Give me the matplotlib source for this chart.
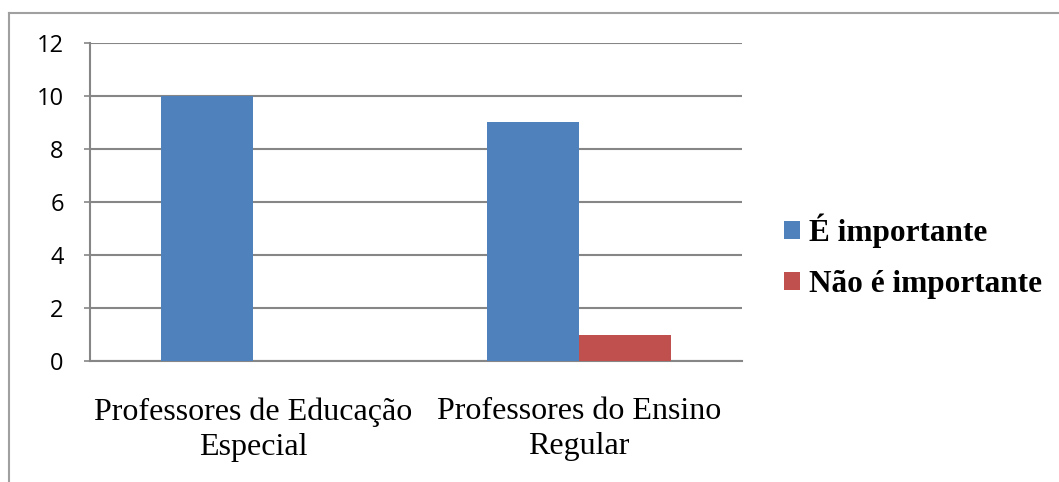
import numpy as np
import matplotlib.pyplot as plt
from matplotlib.lines import Line2D

# DATA
categories = ['Professores de Educação\nEspecial', 'Professores do Ensino\nRegular']
importante = [10, 9]
nao_importante = [0, 1]
series_names = ['É importante', 'Não é importante']
yticks = [0, 2, 4, 6, 8, 10, 12]

blue = '#4F81BD'
red = '#C0504D'
gray = '#868686'

fig = plt.figure(figsize=(10.59, 4.82), dpi=100)
ax = fig.add_axes([0.085, 0.251, 0.6157, 0.660])

x = np.arange(len(categories))
w = 0.283
ax.bar(x - w / 2, importante, w, color=blue, label=series_names[0], zorder=3)
ax.bar(x + w / 2, nao_importante, w, color=red, label=series_names[1], zorder=3)

ax.set_xlim(-0.5, 1.5)
ax.set_ylim(0, 12)
ax.set_yticks(yticks)
ax.set_yticklabels([str(v) for v in yticks], fontfamily='Open Sans', fontsize=17)
ax.yaxis.grid(True, color=gray, linewidth=1.5, zorder=0)
ax.set_xticks(x)
ax.set_xticklabels(categories, fontfamily='Liberation Serif', fontsize=23, linespacing=1.27)
ax.tick_params(axis='x', length=0, pad=26)
ax.tick_params(axis='y', length=4, color=gray, width=1.2, pad=15)

for side in ['top', 'right']:
    ax.spines[side].set_visible(False)
for side in ['left', 'bottom']:
    ax.spines[side].set_color(gray)
    ax.spines[side].set_linewidth(1.5)

leg = fig.legend(loc='center left', bbox_to_anchor=(0.714, 0.468), frameon=False,
                 prop={'family': 'Liberation Serif', 'weight': 'bold', 'size': 22.5},
                 handlelength=0.5, handleheight=0.5, handletextpad=0.3, labelspacing=0.72)

# chart border
fig.add_artist(Line2D([9 / 1059, 9 / 1059], [0, 1 - 13 / 482], transform=fig.transFigure,
                      color='#A0A0A0', linewidth=1.5))
fig.add_artist(Line2D([9 / 1059, 1], [1 - 13 / 482, 1 - 13 / 482], transform=fig.transFigure,
                      color='#A0A0A0', linewidth=1.5))

fig.savefig('out.png', dpi=100)
